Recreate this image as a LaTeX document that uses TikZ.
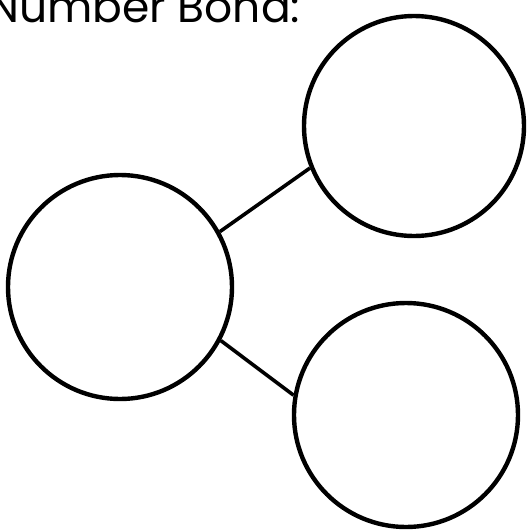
\documentclass[tikz,border=0pt]{standalone}
\usepackage{fontspec}
\setmainfont{Poppins}
\begin{document}
\begin{tikzpicture}[x=1pt,y=1pt,
  bond/.style={circle,draw=black,line width=4.4pt,inner sep=0pt},
  link/.style={draw=black,line width=3.6pt},
  title/.style={anchor=base west,inner sep=0pt,font=\fontsize{44}{50}\selectfont}]
\useasboundingbox[fill=white] (0,0) rectangle (527,-531);
\node[title] (t) at (-12,-22) {Number Bond:};
\node[bond,minimum size=224pt] (L) at (120,-287) {};
\node[bond,minimum size=220pt] (TR) at (414,-126) {};
\node[bond,minimum size=224pt] (BR) at (406,-415) {};
\draw[link] (L.29) -- (TR.202);
\draw[link] (L.-28) -- (BR.170);
\end{tikzpicture}
\end{document}
